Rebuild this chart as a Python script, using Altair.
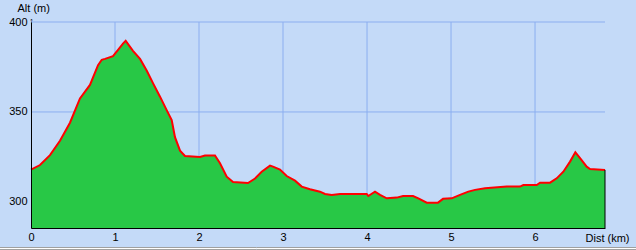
import altair as alt
import pandas as pd

# ---- data ----
dist_km = [0.0, 0.107, 0.226, 0.345, 0.464, 0.583, 0.702, 0.798, 0.842, 0.881,
           0.976, 1.036, 1.095, 1.127, 1.214, 1.298, 1.377, 1.452, 1.536, 1.615,
           1.675, 1.714, 1.774, 1.833, 2.012, 2.071, 2.190, 2.250, 2.330, 2.405,
           2.583, 2.667, 2.746, 2.845, 2.881, 2.964, 3.044, 3.143, 3.223, 3.321,
           3.440, 3.500, 3.580, 3.679, 3.996, 4.015, 4.095, 4.155, 4.235, 4.354,
           4.429, 4.548, 4.611, 4.711, 4.845, 4.905, 5.008, 5.107, 5.206, 5.286,
           5.405, 5.663, 5.821, 5.861, 6.020, 6.060, 6.179, 6.258, 6.337, 6.417,
           6.480, 6.536, 6.615, 6.655, 6.833]
alt_m = [318.0, 320.5, 326.0, 334.0, 344.0, 357.5, 365.0, 376.0, 379.0, 379.5,
         381.0, 384.5, 388.0, 389.5, 384.0, 379.5, 373.0, 366.0, 358.5, 351.0,
         345.5, 336.0, 328.5, 325.5, 325.0, 325.8, 325.8, 321.5, 314.0, 311.0,
         310.5, 313.0, 316.8, 320.2, 319.6, 318.0, 314.4, 311.8, 308.5, 307.0,
         305.7, 304.4, 303.8, 304.4, 304.4, 303.3, 305.7, 303.9, 302.0, 302.4,
         303.3, 303.3, 302.0, 299.6, 299.6, 301.7, 302.0, 303.9, 305.7, 306.7,
         307.6, 308.5, 308.5, 309.4, 309.4, 310.7, 310.7, 313.1, 316.8, 322.4,
         327.6, 324.3, 319.6, 318.3, 317.8]
x_ticks = [0, 1, 2, 3, 4, 5, 6]
y_ticks = [300, 350, 400]
x_title = "Dist (km)"
y_title = "Alt (m)"

W, H = 574, 206
FONT = "Liberation Sans"
BG = "#C4DAF8"
GRID = "#8CAEF0"
GREEN = "#28C846"

df = pd.DataFrame({"d": dist_km, "a": alt_m})
X_DOM = [0, dist_km[-1]]
Y_DOM = [285.5, 400]
xs = alt.Scale(domain=X_DOM, nice=False, zero=False)
ys = alt.Scale(domain=Y_DOM, nice=False, zero=False)

x_axis = alt.Axis(
    values=x_ticks, grid=False, ticks=False, domainColor="black", domainWidth=1,
    labelPadding=3, labelFont=FONT, labelFontSize=11, labelColor="black",
    labelFlush=False, format="d", zindex=2,
    title=x_title, titleFont=FONT, titleFontSize=11, titleFontWeight="normal",
    titleColor="black", titleAngle=0, titleAlign="left", titleBaseline="middle",
    titleX=554, titleY=10)
y_axis = alt.Axis(
    values=y_ticks, grid=False, ticks=False, domainColor="black", domainWidth=1,
    labelPadding=4, labelFont=FONT, labelFontSize=11, labelColor="black",
    labelBaseline="middle", labelFlush=False, format="d", zindex=2,
    title=y_title, titleFont=FONT, titleFontSize=11, titleFontWeight="normal",
    titleColor="black", titleAngle=0, titleAlign="left", titleBaseline="middle",
    titleX=-14, titleY=-14)

vgrid = alt.Chart(pd.DataFrame({"d": x_ticks[1:]})).mark_rule(
    color=GRID, strokeWidth=1).encode(
    x=alt.X("d:Q", scale=xs, axis=x_axis), y=alt.value(0), y2=alt.value(H))
hgrid = alt.Chart(pd.DataFrame({"a": y_ticks[1:]})).mark_rule(
    color=GRID, strokeWidth=1).encode(
    y=alt.Y("a:Q", scale=ys, axis=y_axis), x=alt.value(0), x2=alt.value(W))

area = alt.Chart(df).mark_area(color=GREEN, opacity=1).encode(
    x=alt.X("d:Q", scale=xs, axis=x_axis),
    y=alt.Y("a:Q", scale=ys, axis=y_axis),
    y2=alt.datum(Y_DOM[0]),
)

line = alt.Chart(df).mark_line(color="#FF0000", strokeWidth=2).encode(
    x=alt.X("d:Q", scale=xs, axis=x_axis), y=alt.Y("a:Q", scale=ys, axis=y_axis))

edge = alt.Chart(pd.DataFrame({"d": [dist_km[-1]], "a": [alt_m[-1]], "b": [Y_DOM[0]]})).mark_rule(
    color="black", strokeWidth=1).encode(
    x=alt.X("d:Q", scale=xs, axis=x_axis), y=alt.Y("a:Q", scale=ys, axis=y_axis), y2="b:Q")

arrow = alt.Chart(pd.DataFrame({"d": [0], "a": [Y_DOM[1]]})).mark_text(
    text="↑", font=FONT, fontSize=9, color="black", baseline="middle", align="center", dy=-1, dx=0.5
).encode(x=alt.X("d:Q", scale=xs, axis=x_axis), y=alt.Y("a:Q", scale=ys, axis=y_axis))

border1 = alt.Chart(pd.DataFrame({"k": [0]})).mark_rule(color="#A0A0A0", strokeWidth=1).encode(
    x=alt.value(-31), x2=alt.value(W + 31), y=alt.value(H + 19.5))
border2 = alt.Chart(pd.DataFrame({"k": [0]})).mark_rule(color="#FFFFFF", strokeWidth=1).encode(
    x=alt.value(-31), x2=alt.value(W + 31), y=alt.value(H + 20.5))
border3 = alt.Chart(pd.DataFrame({"k": [0]})).mark_rule(color="#A0A0A0", strokeWidth=1).encode(
    x=alt.value(-31), x2=alt.value(W + 31), y=alt.value(H + 21.5))

chart = alt.layer(vgrid, hgrid, area, line, edge, arrow, border1, border2, border3).properties(
    width=W, height=H,
    autosize=alt.AutoSizeParams(type="none"),
    padding={"left": 31, "top": 22, "right": 31, "bottom": 22},
    background=BG,
).configure_view(stroke=None)

chart.save("out.html", embed_options={"renderer": "svg", "actions": False})
